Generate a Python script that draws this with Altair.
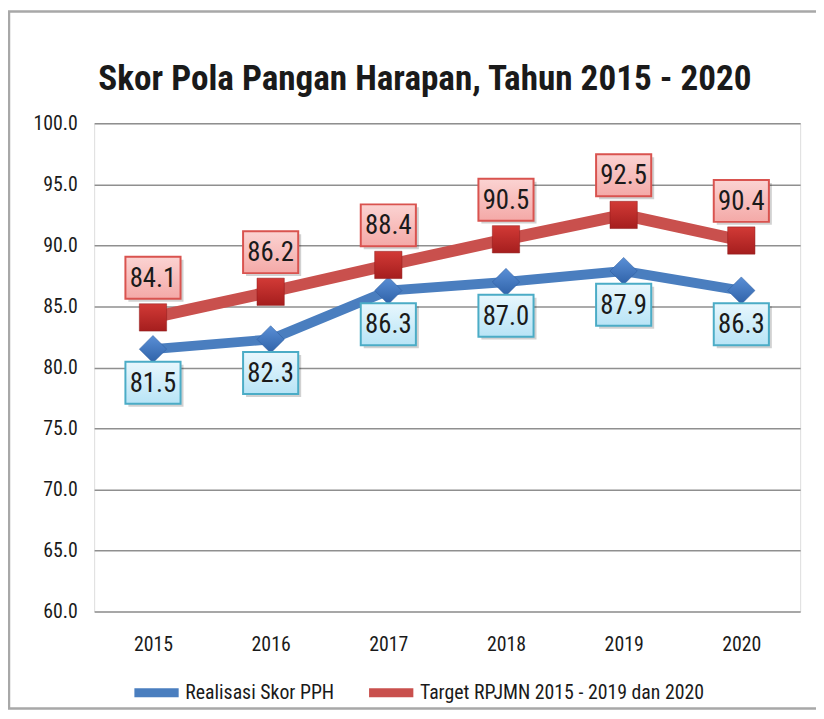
import altair as alt
import pandas as pd

years = ["2015", "2016", "2017", "2018", "2019", "2020"]
realisasi = [81.5, 82.3, 86.3, 87.0, 87.9, 86.3]
target = [84.1, 86.2, 88.4, 90.5, 92.5, 90.4]
series_names = ["Realisasi Skor PPH", "Target RPJMN 2015 - 2019 dan 2020"]
title_text = "Skor Pola Pangan Harapan, Tahun 2015 - 2020"
y_ticks = [60, 65, 70, 75, 80, 85, 90, 95, 100]

df = pd.DataFrame({
    "year": years * 2,
    "value": realisasi + target,
    "series": [series_names[0]] * len(years) + [series_names[1]] * len(years),
})

FONT = "Roboto Condensed, DejaVu Sans Condensed, Lato, sans-serif"
W, H = 713, 493

x_enc = alt.X("year:O", title=None,
              axis=alt.Axis(labelAngle=0, labelFont=FONT, labelFontSize=20,
                            labelColor="#1a1a1a", labelPadding=23, ticks=False,
                            domain=False))
y_enc = alt.Y("value:Q", title=None,
              scale=alt.Scale(domain=[60, 100], nice=False, zero=False),
              axis=alt.Axis(values=y_ticks, format=".1f", labelFont=FONT,
                            labelFontSize=20, labelColor="#1a1a1a",
                            labelPadding=17, ticks=False, domain=False,
                            grid=True, gridColor="#8f8f8f", gridWidth=1.5))

color_enc = alt.Color("series:N",
                      scale=alt.Scale(domain=series_names, range=["#4a7ebf", "#c9504d"]),
                      legend=alt.Legend(title=None, orient="none", legendX=36, legendY=548,
                                        direction="horizontal", symbolType="stroke",
                                        symbolStrokeWidth=9, symbolSize=2000,
                                        labelFont=FONT, labelFontSize=20, labelLimit=0,
                                        labelColor="#1a1a1a", columnPadding=16,
                                        labelOffset=2))

base = alt.Chart(df)
blue = alt.datum.series == series_names[0]
red = alt.datum.series == series_names[1]

frame = alt.Chart(pd.DataFrame({"k": [0]})).mark_rect(
    fill="transparent", stroke="#a8a8a8", strokeWidth=2.5
).encode(x=alt.value(-86), x2=alt.value(760), y=alt.value(-113), y2=alt.value(591))

title = alt.Chart(pd.DataFrame({"t": [title_text]})).mark_text(
    font=FONT, fontSize=35.5, fontWeight="bold", color="#1a1a1a",
    align="center", baseline="alphabetic"
).encode(x=alt.value(334), y=alt.value(-34), text="t:N")

line_blue = base.transform_filter(blue).mark_line(strokeWidth=10).encode(x=x_enc, y=y_enc, color=color_enc)
line_red = base.transform_filter(red).mark_line(strokeWidth=12).encode(x=x_enc, y=y_enc, color=color_enc)

diamond = base.transform_filter(blue).mark_point(
    shape="diamond", size=760, filled=True, opacity=1,
    fill=alt.Gradient(gradient="linear", x1=0, y1=0, x2=0, y2=1,
                      stops=[alt.GradientStop(color="#5a8fd6", offset=0),
                             alt.GradientStop(color="#2f62a8", offset=1)]),
    stroke="#2a5a9c", strokeWidth=0.5
).encode(x=x_enc, y=y_enc)

square = base.transform_filter(red).mark_point(
    shape="square", size=760, filled=True, opacity=1,
    fill=alt.Gradient(gradient="linear", x1=0, y1=0, x2=0, y2=1,
                      stops=[alt.GradientStop(color="#d23a36", offset=0),
                             alt.GradientStop(color="#a51e1e", offset=1)]),
    stroke="#8e1a1a", strokeWidth=0.5
).encode(x=x_enc, y=y_enc)

BOX = "M-1,-0.76L1,-0.76L1,0.76L-1,0.76Z"
BOX_SIZE = 3100

def label_layers(cond, dy, fill_top, fill_bot, stroke):
    shadow = base.transform_filter(cond).mark_point(
        shape=BOX, size=BOX_SIZE, filled=True, fill="#000000", opacity=0.18,
        strokeWidth=0, yOffset=dy + 3, xOffset=3
    ).encode(x=x_enc, y=y_enc)
    box = base.transform_filter(cond).mark_point(
        shape=BOX, size=BOX_SIZE, filled=True, opacity=1,
        fill=alt.Gradient(gradient="linear", x1=0, y1=0, x2=0, y2=1,
                          stops=[alt.GradientStop(color=fill_top, offset=0),
                                 alt.GradientStop(color=fill_bot, offset=1)]),
        stroke=stroke, strokeWidth=2, yOffset=dy
    ).encode(x=x_enc, y=y_enc)
    txt = base.transform_filter(cond).mark_text(
        font=FONT, fontSize=27, color="#1a1a1a", baseline="middle",
        align="center", yOffset=dy + 1
    ).encode(x=x_enc, y=y_enc, text=alt.Text("value:Q", format=".1f"))
    return [shadow, box, txt]

labels_blue = label_layers(blue, 34, "#e8f7fd", "#b8e4f6", "#4bacc6")
labels_red = label_layers(red, -40, "#fbd3d2", "#f4a9a7", "#d9534f")

chart = alt.layer(
    frame, title, line_blue, line_red, diamond, square, *labels_blue, *labels_red
).properties(
    width=W, height=H,
    autosize=alt.AutoSizeParams(type="none"),
    padding={"left": 87, "top": 113, "right": 16, "bottom": 103},
).configure_view(
    fill="#f9e3e3", stroke="#a0a0a0", strokeWidth=1.5
).configure(background="white")

chart.save("out.html", embed_options={"renderer": "svg", "actions": False})
